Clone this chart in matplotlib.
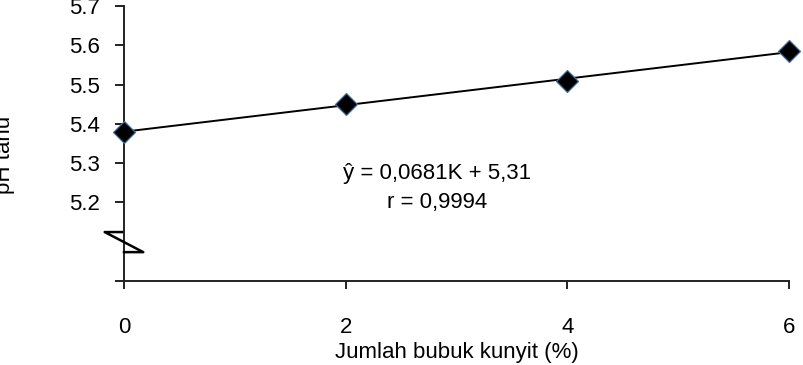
import numpy as np
import matplotlib
matplotlib.use("Agg")
import matplotlib.pyplot as plt

plt.rcParams['font.family'] = ['Liberation Sans', 'DejaVu Sans']

# data
kunyit = [0, 2, 4, 6]
ph_tahu = [5.38, 5.45, 5.51, 5.585]
y_ticks = [5.0, 5.2, 5.3, 5.4, 5.5, 5.6, 5.7]
y_ticklabels = ['', '5.2', '5.3', '5.4', '5.5', '5.6', '5.7']
x_ticks = [0, 2, 4, 6]

fig = plt.figure(figsize=(8.04, 3.65), dpi=100)
ax = fig.add_axes([0.1542, 0.2301, 0.8271, 0.7535])

# trend line through the points
coef = np.polyfit(kunyit, ph_tahu, 1)
xs = np.array([kunyit[0], kunyit[-1]])
ax.plot(xs, np.polyval(coef, xs), color='black', lw=1.4, zorder=2)
ax.plot(kunyit, ph_tahu, linestyle='none', marker='D', markersize=11,
        markerfacecolor='black', markeredgecolor='#3d6fa8', markeredgewidth=0.9,
        zorder=3, clip_on=False)

ax.set_xlim(0, 6)
ax.set_ylim(5.0, 5.7)
ax.set_xticks(x_ticks)
ax.set_yticks(y_ticks)
ax.set_yticklabels(y_ticklabels)

for s in ['top', 'right']:
    ax.spines[s].set_visible(False)
for s in ['left', 'bottom']:
    ax.spines[s].set_linewidth(1.4)
    ax.spines[s].set_color('#222222')

ax.tick_params(axis='y', direction='out', length=6.5, width=1.4, color='#222222',
               labelsize=16, pad=11)
ax.tick_params(axis='x', direction='out', length=6, width=1.4, color='#222222',
               labelsize=16, pad=20)

# axis break zig-zag
ax.plot([-0.003, -0.029, 0.029, 0.0], [0.178, 0.178, 0.105, 0.105],
        transform=ax.transAxes, color='black', lw=1.8, clip_on=False, zorder=4)

ax.set_xlabel('Jumlah bubuk kunyit (%)', fontsize=16, labelpad=3)
fig.text(0.005, 0.575, 'pH tahu', rotation=90, fontsize=16, ha='center', va='center')

ax.text(2.824, 5.26, 'ŷ = 0,0681K + 5,31', ha='center', va='baseline', fontsize=16)
ax.text(2.824, 5.186, 'r = 0,9994', ha='center', va='baseline', fontsize=16)

fig.savefig('out.png', dpi=100)
